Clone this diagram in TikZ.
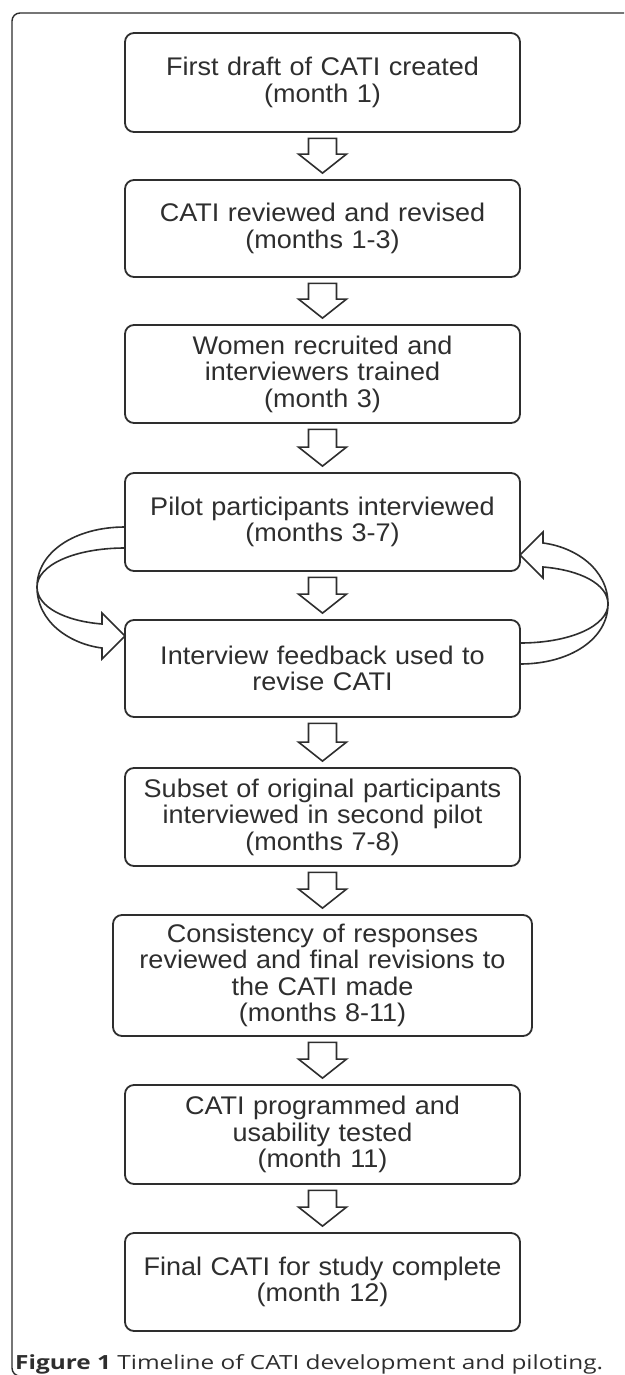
\documentclass[tikz,border=0pt]{standalone}
\usepackage{fontspec}
\setmainfont{Liberation Sans}[FakeStretch=1.06]
\newfontfamily\capfont{Open Sans}[FakeStretch=1.25]
\usetikzlibrary{calc}
\definecolor{ink}{HTML}{2E2E2E}
\tikzset{
  stage/.style={draw=ink, line width=1.8pt, rounded corners=9pt, minimum width=395pt,
    text width=390pt, align=center, inner sep=0pt, text=ink,
    font=\fontsize{25.5}{26.5}\selectfont},
  blockarr/.style={draw=ink, line width=1.6pt, line join=miter, fill=white},
  looparr/.style={draw=ink, line width=1.6pt, line join=miter},
  frame/.style={draw=ink, line width=1.4pt, rounded corners=8pt},
}
\newcommand\blockdown[2]{%
  \draw[blockarr] let \p1=(#1.south), \p2=(#2.north) in
    ({\x1-14pt},{\y1-5.5pt}) -- ({\x1+14pt},{\y1-5.5pt}) -- ({\x1+14pt},{\y2+25pt})
    -- ({\x1+24pt},{\y2+25pt}) -- ({\x1},{\y2+6pt}) -- ({\x1-24pt},{\y2+25pt})
    -- ({\x1-14pt},{\y2+25pt}) -- cycle;}
\newcommand\looppath{%
  \draw[looparr] (125,527) .. controls (75,527) and (37,552) .. (37,587)
     .. controls (37,607) and (65,621) .. (102,624)
     -- (102,613) -- (125,636) -- (102,659) -- (102,648)
     .. controls (70,644) and (37,622) .. (37,587)
     .. controls (37,565) and (75,548) .. (125,548);}
\begin{document}
\begin{tikzpicture}[x=1pt,y=-1pt]
\clip (0,0) rectangle (624,1375);
\fill[white] (0,0) rectangle (624,1375);
\draw[frame] (12,13) rectangle (700,1376);

\node[stage, minimum height=99pt] (b1) at (322.5,82.5) {First draft of CATI created\\(month 1)};
\node[stage, minimum height=97pt] (b2) at (322.5,228.5) {CATI reviewed and revised\\(months 1-3)};
\node[stage, minimum height=98pt] (b3) at (322.5,374) {Women recruited and\\interviewers trained\\(month 3)};
\node[stage, minimum height=98pt] (b4) at (322.5,522) {Pilot participants interviewed\\(months 3-7)};
\node[stage, minimum height=97pt] (b5) at (322.5,668.5) {Interview feedback used to\\revise CATI};
\node[stage, minimum height=98pt] (b6) at (322.5,817) {Subset of original participants\\interviewed in second pilot\\(months 7-8)};
\node[stage, minimum height=121pt, minimum width=419pt] (b7) at (322.5,975.5) {Consistency of responses\\reviewed and final revisions to\\the CATI made\\(months 8-11)};
\node[stage, minimum height=99pt] (b8) at (322.5,1134.5) {CATI programmed and\\usability tested\\(month 11)};
\node[stage, minimum height=98pt] (b9) at (322.5,1282) {Final CATI for study complete\\(month 12)};

\blockdown{b1}{b2}
\blockdown{b2}{b3}
\blockdown{b3}{b4}
\blockdown{b4}{b5}
\blockdown{b5}{b6}
\blockdown{b6}{b7}
\blockdown{b7}{b8}
\blockdown{b8}{b9}

\coordinate (mid) at ($(b4.south)!0.5!(b5.north)$);
\looppath
\begin{scope}[rotate around={180:(mid)}]
\looppath
\end{scope}

\node[anchor=base west, inner sep=0pt, text=ink, font=\capfont\fontsize{19.5}{21}\selectfont] (cap) at (15,1369)
  {\textbf{Figure 1} Timeline of CATI development and piloting.};
\end{tikzpicture}
\end{document}
